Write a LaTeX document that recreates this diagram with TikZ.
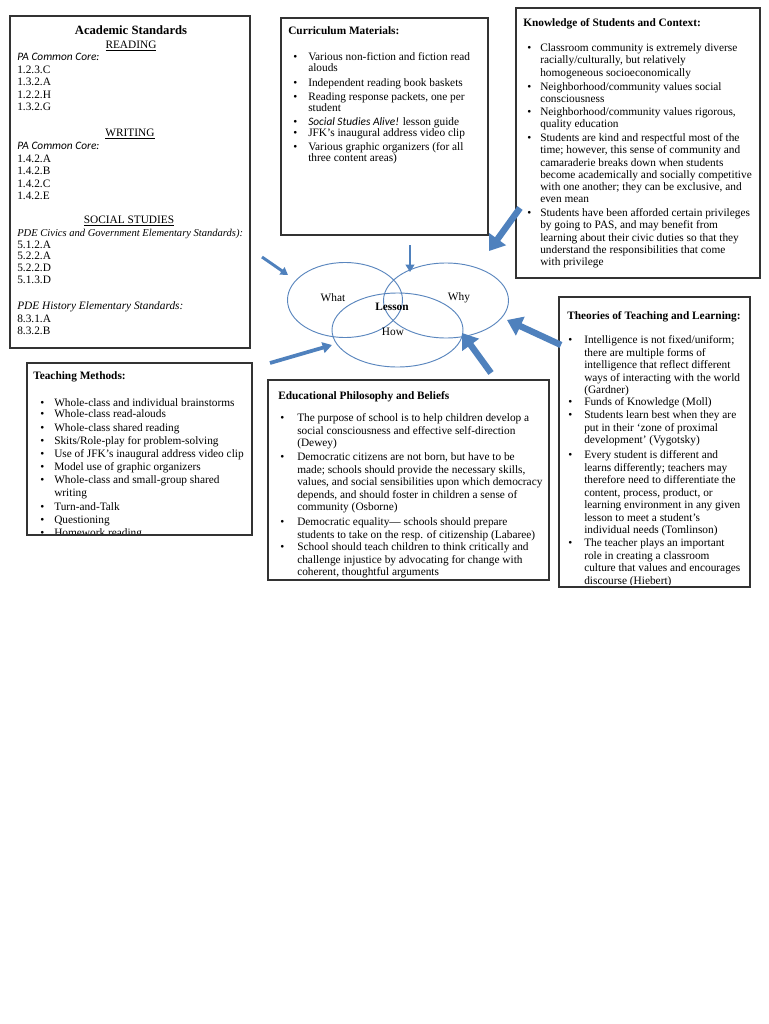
\documentclass[tikz,border=0pt]{standalone}
\usepackage{fontspec}
\setmainfont{Liberation Serif}
\newfontfamily\calib{Carlito}
\usetikzlibrary{arrows.meta,shapes.geometric,fit}
\definecolor{arrowblue}{HTML}{4F81BD}
\definecolor{vennblue}{HTML}{5A86BE}
\definecolor{boxline}{HTML}{333333}
\newcommand\mlx[1]{\begin{tabular}[t]{@{}l@{}}#1\end{tabular}}
\tikzset{
 panel/.style={draw=boxline, line width=0.9pt, inner sep=0pt, outer sep=0pt},
 lines/.style={anchor=base west, inner sep=0pt, font=\fontsize{8.5}{#1}\selectfont},
 lines/.default=9.3pt,
 bul/.style={anchor=base west, inner sep=0pt, font=\fontsize{8.5}{8.5}\selectfont},
 head/.style={anchor=base west, inner sep=0pt, font=\fontsize{8.5}{9}\selectfont\bfseries},
 ctr/.style={anchor=base, inner sep=0pt, font=\fontsize{8.5}{9}\selectfont},
 venn/.style={ellipse, draw=vennblue, line width=0.7pt, inner sep=0pt},
 vlabel/.style={inner sep=0pt, font=\fontsize{8.5}{9}\selectfont},
 thinarrow/.style={draw=arrowblue, line width=2.2pt, -{Triangle[width=6.5pt,length=5.5pt]}},
 midarrow/.style={draw=arrowblue, line width=2.8pt, -{Triangle[width=8pt,length=7pt]}},
 thickarrow/.style={draw=arrowblue, line width=4.8pt, -{Triangle[width=15pt,length=11pt]}},
}
\newcommand\bitem[6]{\node[bul] (#1b) at (#2,#4) {\textbullet}; \node[lines=#5] (#1) at (#3,#4) {\mlx{#6}};}
\begin{document}
\begin{tikzpicture}[x=0.75pt,y=-0.75pt]
\fill[white] (0,0) rectangle (768,1024);
\useasboundingbox (0,0) rectangle (768,1024);

% ---------- panels
\node[panel, fit={(10,16) (250,348)}] (acad) {};
\node[panel, fit={(281,18) (488,235)}] (curr) {};
\node[panel, fit={(516,8) (760,278)}] (know) {};
\node[panel, fit={(559,297) (750,587)}] (theo) {};
\node[panel, fit={(27,363) (252,535)}] (teach) {};
\node[panel, fit={(268,380) (549,580)}] (phil) {};

% ---------- Academic Standards
\node[anchor=base, inner sep=0pt, font=\fontsize{9.5}{10}\selectfont\bfseries] (acadtitle) at (131,35) {Academic Standards};
\node[ctr] (readh) at (131,48.5) {\underline{READING}};
\node[lines=9.4pt] (readpa) at (17,60.5) {\mlx{{\calib\itshape PA Common Core:}\\1.2.3.C\\1.3.2.A\\1.2.2.H\\1.3.2.G}};
\node[ctr] (writeh) at (130,136.5) {\underline{WRITING}};
\node[lines=9.4pt] (writepa) at (17,149.5) {\mlx{{\calib\itshape PA Common Core:}\\1.4.2.A\\1.4.2.B\\1.4.2.C\\1.4.2.E}};
\node[ctr] (socialh) at (129,223.5) {\underline{SOCIAL STUDIES}};
\node[lines=8.8pt] (civics) at (17,236.5) {\mlx{{\fontsize{7.9}{8.8}\selectfont\itshape PDE Civics and Government Elementary Standards):}\\5.1.2.A\\5.2.2.A\\5.2.2.D\\5.1.3.D}};
\node[lines=9.5pt] (history) at (17,309.5) {\mlx{{\itshape PDE History Elementary Standards:}\\8.3.1.A\\8.3.2.B}};

% ---------- Curriculum Materials
\node[head] (currtitle) at (288,34.5) {Curriculum Materials:};
\bitem{c1}{293}{308}{60.5}{8.25pt}{Various non-fiction and fiction read\\alouds}
\bitem{c2}{293}{308}{86.5}{8pt}{Independent reading book baskets}
\bitem{c3}{293}{308}{100.5}{8.25pt}{Reading response packets, one per\\student}
\bitem{c4}{293}{308}{125.5}{7.5pt}{{\calib\itshape Social Studies Alive!} lesson guide}
\bitem{c5}{293}{308}{136.5}{7.5pt}{JFK’s inaugural address video clip}
\bitem{c6}{293}{308}{150.5}{8.25pt}{Various graphic organizers (for all\\three content areas)}

% ---------- Knowledge of Students and Context
\node[head] (knowtitle) at (523,26.5) {Knowledge of Students and Context:};
\bitem{k1}{527}{540}{51.5}{9.2pt}{Classroom community is extremely diverse\\racially/culturally, but relatively\\homogeneous socioeconomically}
\bitem{k2}{527}{540}{90.5}{9.2pt}{Neighborhood/community values social\\consciousness}
\bitem{k3}{527}{540}{115.5}{9.2pt}{Neighborhood/community values rigorous,\\quality education}
\bitem{k4}{527}{540}{141.5}{9.2pt}{Students are kind and respectful most of the\\time; however, this sense of community and\\camaraderie breaks down when students\\become academically and socially competitive\\with one another; they can be exclusive, and\\even mean}
\bitem{k5}{527}{540}{216.5}{9.2pt}{Students have been afforded certain privileges\\by going to PAS, and may benefit from\\learning about their civic duties so that they\\understand the responsibilities that come\\with privilege}

% ---------- Theories of Teaching and Learning
\begin{scope}
\clip (559,297) rectangle (750,584);
\node[head] (theotitle) at (567,319.5) {Theories of Teaching and Learning:};
\bitem{t1}{568}{584}{343.5}{9.4pt}{Intelligence is not fixed/uniform;\\there are multiple forms of\\intelligence that reflect different\\ways of interacting with the world\\(Gardner)}
\bitem{t2}{568}{584}{405.5}{8pt}{Funds of Knowledge (Moll)}
\bitem{t3}{568}{584}{418.5}{9.4pt}{Students learn best when they are\\put in their ‘zone of proximal\\development’ (Vygotsky)}
\bitem{t4}{568}{584}{458.5}{9.4pt}{Every student is different and\\learns differently; teachers may\\therefore need to differentiate the\\content, process, product, or\\learning environment in any given\\lesson to meet a student’s\\individual needs (Tomlinson)}
\bitem{t5}{568}{584}{546.5}{9.4pt}{The teacher plays an important\\role in creating a classroom\\culture that values and encourages\\discourse (Hiebert)}
\end{scope}

% ---------- Teaching Methods
\begin{scope}
\clip (27,363) rectangle (252,533);
\node[head] (teachtitle) at (33,379.5) {Teaching Methods:};
\bitem{m1}{40}{54}{406.5}{7.5pt}{Whole-class and individual brainstorms}
\bitem{m2}{40}{54}{417.5}{7.5pt}{Whole-class read-alouds}
\bitem{m3}{40}{54}{431.5}{8pt}{Whole-class shared reading}
\bitem{m4}{40}{54}{444.5}{8pt}{Skits/Role-play for problem-solving}
\bitem{m5}{40}{54}{457.5}{8pt}{Use of JFK’s inaugural address video clip}
\bitem{m6}{40}{54}{470.5}{8pt}{Model use of graphic organizers}
\bitem{m7}{40}{54}{483.5}{9.75pt}{Whole-class and small-group shared\\writing}
\bitem{m8}{40}{54}{510.5}{8pt}{Turn-and-Talk}
\bitem{m9}{40}{54}{523.5}{8pt}{Questioning}
\bitem{m10}{40}{54}{536.5}{8pt}{Homework reading}
\end{scope}

% ---------- Educational Philosophy and Beliefs
\node[head] (philtitle) at (278,399.5) {Educational Philosophy and Beliefs};
\bitem{p1}{280}{297}{421.5}{9.4pt}{The purpose of school is to help children develop a\\social consciousness and effective self-direction\\(Dewey)}
\bitem{p2}{280}{297}{460.5}{9.4pt}{Democratic citizens are not born, but have to be\\made; schools should provide the necessary skills,\\values, and social sensibilities upon which democracy\\depends, and should foster in children a sense of\\community (Osborne)}
\bitem{p3}{280}{297}{525.5}{9.4pt}{Democratic equality— schools should prepare\\students to take on the resp. of citizenship (Labaree)}
\bitem{p4}{280}{297}{550.5}{9.4pt}{School should teach children to think critically and\\challenge injustice by advocating for change with\\coherent, thoughtful arguments}

% ---------- Venn diagram
\node[venn, minimum width=86.25pt, minimum height=56.25pt] (what) at (345,300) {};
\node[venn, minimum width=93.75pt, minimum height=56.25pt] (why) at (446,300.5) {};
\node[venn, minimum width=98.25pt, minimum height=55.5pt] (how) at (397.5,330) {};
\node[vlabel] (whatl) at (333,298) {What};
\node[vlabel] (whyl) at (459,298) {Why};
\node[vlabel, font=\fontsize{8.5}{9}\selectfont\bfseries] (lessonl) at (392,307) {Lesson};
\node[vlabel] (howl) at (393,332) {How};

% ---------- arrows
\coordinate (aAs) at (262,257);  \coordinate (aAe) at (288,275);
\coordinate (aBs) at (410,245);  \coordinate (aBe) at (410,272);
\coordinate (aCs) at (520,208);  \coordinate (aCe) at (489,251);
\coordinate (aDs) at (561,345);  \coordinate (aDe) at (507,320);
\coordinate (aEs) at (491,373);  \coordinate (aEe) at (462,333);
\coordinate (aFs) at (270,363);  \coordinate (aFe) at (332,345);
\draw[thinarrow] (aAs) -- (aAe);
\draw[thinarrow] (aBs) -- (aBe);
\draw[thickarrow] (aCs) -- (aCe);
\draw[thickarrow] (aDs) -- (aDe);
\draw[thickarrow] (aEs) -- (aEe);
\draw[midarrow] (aFs) -- (aFe);
\end{tikzpicture}
\end{document}
